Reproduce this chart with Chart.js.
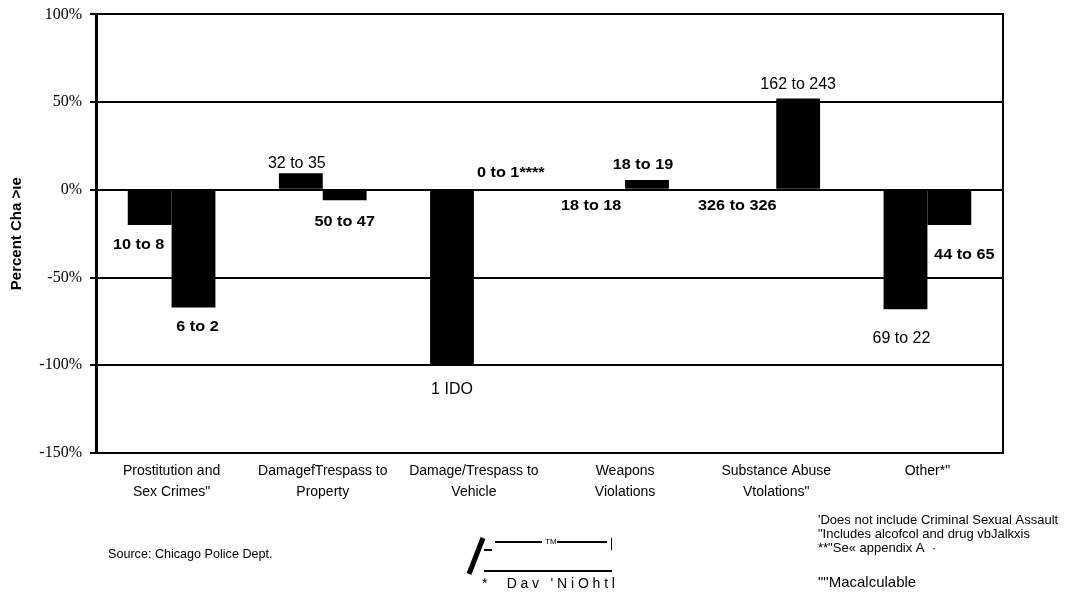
<!DOCTYPE html>
<html>
<head>
<meta charset="utf-8">
<script src="https://cdn.jsdelivr.net/npm/chart.js@4/dist/chart.umd.min.js"></script>
<style>
  body { margin: 0; background: #fff; }
  #wrap { width: 1073px; height: 592px; position: relative; }
</style>
</head>
<body>
<div id="wrap"><canvas id="myChart"></canvas></div>
<script>
// categories (two-line labels as printed)
const categories = [
    ['Prostitution and', 'Sex Crimes"'],
    ['DamagefTrespass to', 'Property'],
    ['Damage/Trespass to', 'Vehicle'],
    ['Weapons', 'Violations'],
    ['Substance Abuse', 'Vtolations"'],
    ['Other*"']
]

// percent change, first and second bar of each group
const dayChange = [-20, 9.4, -100, 0, 0, -68]
const nightChange = [-67, -6, 0, 5.6, 52, -20]

// counts printed next to the bars
const dayLabels = ['10 to 8', '32 to 35', '1 IDO', '18 to 18', '326 to 326', '69 to 22']
const nightLabels = ['6 to 2', '50 to 47', '0 to 1****', '18 to 19', '162 to 243', '44 to 65']

const yTicks = [-150, -100, -50, 0, 50, 100]

const footnotes = [
    "'Does not include Criminal Sexual Assault",
    '"Includes alcofcol and drug vbJalkxis',
    '**"Se\u00ab appendix A  \u00b7'
]

// label placement relative to the bar end, and weight
const labelStyle = [
    { // first bar
        off: [[-11, 20], [-4, -10], [0, 24], [-12, 16], [-17, 16], [-4, 29]],
        bold: [true, false, false, true, true, false]
    },
    { // second bar
        off: [[4, 20], [0, 22], [15, -17], [-4, -15], [0, -14], [15, 30]],
        bold: [true, true, true, true, false, true]
    }
]
const allLabels = [dayLabels, nightLabels]

const barLabels = {
    id: 'barLabels',
    afterDatasetsDraw(chart) {
        const c = chart.ctx
        chart.data.datasets.forEach((ds, d) => {
            const meta = chart.getDatasetMeta(d)
            meta.data.forEach((bar, i) => {
                const st = labelStyle[d]
                const x = bar.x + st.off[i][0]
                const y = bar.y + st.off[i][1]
                c.save()
                c.fillStyle = '#000'
                c.textAlign = 'center'
                c.textBaseline = 'middle'
                c.translate(x, y)
                if (st.bold[i]) {
                    // the bold labels are printed wide and short
                    c.font = 'bold 14px "Liberation Sans", Arial'
                    c.scale(1.16, 1)
                } else {
                    c.font = '16px "Liberation Sans", Arial'
                }
                c.fillText(allLabels[d][i], 0, 0)
                c.restore()
            })
        })
    }
}

const extras = {
    id: 'extras',
    afterDraw(chart) {
        const c = chart.ctx
        c.save()
        c.fillStyle = '#000'
        c.strokeStyle = '#000'
        c.textBaseline = 'middle'
        c.textAlign = 'left'

        c.font = '12.6px "Liberation Sans", Arial'
        c.fillText('Source: Chicago Police Dept.', 108, 555)

        c.font = '13px "Liberation Sans", Arial'
        footnotes.forEach((t, i) => c.fillText(t, 818, 520 + i * 14))
        c.font = '15px "Liberation Sans", Arial'
        c.fillText('""Macalculable', 818, 583)

        // scrambled legend box (Day / Night)
        c.lineWidth = 5
        c.beginPath()
        c.moveTo(483, 538)
        c.lineTo(469, 574)
        c.stroke()
        c.lineWidth = 2
        c.beginPath()
        c.moveTo(495, 542); c.lineTo(542, 542)
        c.moveTo(557, 542); c.lineTo(607, 542)
        c.moveTo(484, 550); c.lineTo(492, 550)
        c.moveTo(484, 571); c.lineTo(612, 571)
        c.stroke()
        c.lineWidth = 1
        c.beginPath()
        c.moveTo(611.5, 538); c.lineTo(611.5, 550)
        c.stroke()
        c.font = '8px "Liberation Sans", Arial'
        c.fillText('TM', 545, 542)
        c.font = '14px "Liberation Sans", Arial'
        c.letterSpacing = '3.8px'
        c.fillText("*  Dav 'NiOhtl", 482, 584)
        c.restore()
    }
}

const ctx = document.getElementById('myChart').getContext('2d')

const myChart = new Chart(ctx, {
    type: 'bar',
    data: {
        labels: categories,
        datasets: [{
            label: 'Day',
            data: dayChange,
            backgroundColor: '#000',
            borderWidth: 0
        }, {
            label: 'Night',
            data: nightChange,
            backgroundColor: '#000',
            borderWidth: 0
        }]
    },
    plugins: [barLabels, extras],
    options: {
        responsive: true,
        maintainAspectRatio: false,
        animation: false,
        layout: { padding: { left: 0, right: 70, top: 14, bottom: 0 } },
        categoryPercentage: 0.58,
        barPercentage: 1,
        plugins: {
            legend: { display: false },
            tooltip: { enabled: false }
        },
        scales: {
            x: {
                grid: { display: false },
                border: { display: true, color: '#000', width: 2 },
                ticks: {
                    color: '#000',
                    maxRotation: 0,
                    autoSkip: false,
                    padding: 0,
                    font: { family: '"Liberation Sans", Arial', size: 14, lineHeight: 1.5 }
                },
                afterFit: s => { s.height = 139 }
            },
            y: {
                min: -150,
                max: 100,
                afterBuildTicks: s => { s.ticks = yTicks.map(v => ({ value: v })) },
                grid: { color: '#000', lineWidth: 2, tickLength: 6 },
                border: { color: '#000', width: 3 },
                ticks: {
                    color: '#000',
                    padding: 8,
                    callback: v => v + '%',
                    font: { family: '"Liberation Serif", "Times New Roman"', size: 16, lineHeight: 0.8 }
                },
                title: {
                    display: true,
                    text: 'Percent Cha >\u0131e',
                    color: '#000',
                    padding: { top: 8, bottom: 0 },
                    font: { family: '"Liberation Sans", Arial', size: 15, weight: 'bold' }
                },
                afterFit: s => { s.width = 96 }
            },
            y2: {
                position: 'right',
                min: -150,
                max: 100,
                grid: { drawOnChartArea: false, display: false },
                border: { color: '#000', width: 2 },
                ticks: { display: false },
                afterFit: s => { s.width = 0 }
            }
        }
    }
})
</script>
</body>
</html>
